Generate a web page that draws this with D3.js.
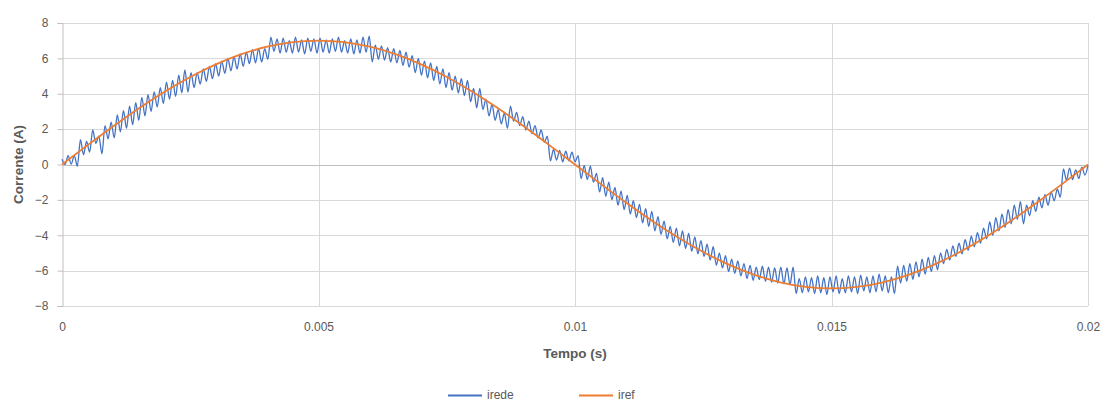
<!DOCTYPE html>
<html>
<head>
<meta charset="utf-8">
<script src="https://cdn.jsdelivr.net/npm/d3@7"></script>
<style>
  html, body { margin: 0; padding: 0; background: #fff; }
  svg { display: block; }
  .tick text { font-family: "Liberation Sans", Arial, sans-serif; font-size: 12px; fill: #595959; }
  .title { font-family: "Liberation Sans", Arial, sans-serif; font-size: 13.5px; font-weight: bold; fill: #595959; }
  .legend text { font-family: "Liberation Sans", Arial, sans-serif; font-size: 12px; fill: #595959; }
</style>
</head>
<body>
<svg id="chart" width="1105" height="403"></svg>
<script>
// Time axis ticks (s) and current axis ticks (A)
const xTicks = [0, 0.005, 0.01, 0.015, 0.02];
const xTickLabels = ["0", "0.005", "0.01", "0.015", "0.02"];
const yTicks = [-8, -6, -4, -2, 0, 2, 4, 6, 8];

// Grid current i_rede (A), uniformly sampled from 0 to 0.02 s
const irede = [
  0.3, 0.0, 0.5, 0.02, 0.5, -0.1, 1.4, 0.55, 1.3, 0.7,
  1.95, 1.2, 1.6, 0.6, 2.2, 1.45, 2.4, 1.5, 2.8, 1.85,
  3.05, 2.05, 3.3, 2.25, 3.5, 2.5, 3.8, 2.75, 3.95, 3.0,
  4.1, 3.25, 4.35, 3.45, 4.65, 3.7, 4.75, 3.85, 5.05, 4.05,
  5.35, 4.1, 5.2, 4.35, 5.2, 4.55, 5.4, 4.7, 5.55, 4.85,
  5.7, 5.0, 5.85, 5.15, 6.0, 5.3, 6.1, 5.4, 6.25, 5.55,
  6.35, 5.7, 6.5, 5.75, 6.55, 5.8, 6.55, 5.95, 7.2, 6.4,
  7.1, 6.3, 7.15, 6.35, 7.0, 6.3, 7.2, 6.35, 7.05, 6.25,
  7.15, 6.4, 7.1, 6.3, 7.15, 6.35, 7.05, 6.3, 7.1, 6.4,
  7.2, 6.35, 7.0, 6.3, 7.1, 6.25, 7.05, 6.3, 7.2, 6.35,
  7.25, 5.8, 6.75, 5.95, 6.7, 5.9, 6.6, 5.8, 6.55, 5.75,
  6.45, 5.6, 6.35, 5.5, 6.15, 5.2, 6.0, 5.05, 5.85, 4.9,
  5.75, 4.75, 5.55, 4.55, 5.4, 4.35, 5.2, 4.2, 5.0, 4.05,
  4.85, 3.9, 4.75, 3.55, 4.3, 3.2, 4.3, 3.1, 3.7, 2.75,
  3.4, 2.5, 3.1, 2.3, 2.9, 2.05, 3.3, 2.45, 2.95, 2.2,
  2.7, 1.95, 2.45, 1.75, 2.2, 1.5, 1.95, 1.25, 1.6, 0.2,
  0.85, 0.25, 0.8, 0.15, 0.75, 0.2, 0.7, 0.15, 0.5, -0.8,
  -0.05, -0.85, -0.1, -1.0, -0.5, -1.55, -0.75, -1.8, -1.0, -2.0,
  -1.3, -2.3, -1.5, -2.55, -1.75, -2.8, -2.05, -3.0, -2.25, -3.3,
  -2.5, -3.5, -2.65, -3.75, -2.95, -3.95, -3.2, -4.2, -3.5, -4.4,
  -3.6, -4.6, -3.75, -4.75, -3.9, -4.9, -4.1, -5.05, -4.3, -5.2,
  -4.5, -5.4, -4.65, -5.7, -5.0, -5.85, -5.15, -6.05, -5.35, -6.15,
  -5.45, -6.3, -5.6, -6.45, -5.7, -6.55, -5.8, -6.5, -5.75, -6.6,
  -5.8, -6.65, -5.85, -6.7, -5.8, -6.75, -5.85, -6.8, -5.8, -7.3,
  -6.45, -7.25, -6.35, -7.2, -6.4, -7.3, -6.3, -7.25, -6.4, -7.35,
  -6.35, -7.2, -6.3, -7.3, -6.45, -7.25, -6.3, -7.2, -6.35, -7.3,
  -6.25, -7.15, -6.35, -7.25, -6.3, -7.2, -6.2, -7.15, -6.3, -7.25,
  -6.35, -7.3, -5.75, -6.7, -5.7, -6.6, -5.6, -6.5, -5.5, -6.35,
  -5.35, -6.2, -5.25, -6.05, -5.15, -5.95, -5.0, -5.6, -4.8, -5.4,
  -4.6, -5.2, -4.45, -5.05, -4.25, -4.85, -4.05, -4.65, -3.85, -4.45,
  -3.6, -4.2, -3.25, -4.0, -3.0, -3.75, -2.8, -3.55, -2.55, -3.35,
  -2.3, -3.1, -2.1, -3.35, -2.3, -2.9, -2.05, -2.65, -1.85, -2.45,
  -1.7, -2.3, -1.55, -2.05, -1.4, -1.85, -0.25, -0.9, -0.2, -0.85,
  -0.3, -0.8, -0.15, -0.6, -0.05
];

// Reference current i_ref (A), sampled every 0.5 ms
const iref = [
  0, 1.095, 2.163, 3.178, 4.115, 4.950, 5.663, 6.237, 6.658, 6.914,
  7.0, 6.914, 6.658, 6.237, 5.663, 4.950, 4.115, 3.178, 2.163, 1.095,
  0, -1.095, -2.163, -3.178, -4.115, -4.950, -5.663, -6.237, -6.658, -6.914,
  -7.0, -6.914, -6.658, -6.237, -5.663, -4.950, -4.115, -3.178, -2.163, -1.095,
  0
];

const seriesNames = ["irede", "iref"];
const seriesColors = ["#4472C4", "#ED7D31"];

const iredeStep = 0.02 / (irede.length - 1);
const irefStep = 0.0005;

const svg = d3.select("#chart");
const plotLeft = 62, plotRight = 1088, plotTop = 23, plotBottom = 306;

const x = d3.scaleLinear().domain([0, 0.02]).range([plotLeft, plotRight]);
const y = d3.scaleLinear().domain([-8, 8]).range([plotBottom, plotTop]);

// Horizontal gridlines
svg.append("g")
  .selectAll("line")
  .data(yTicks.filter(v => v !== 0))
  .join("line")
  .attr("x1", plotLeft).attr("x2", plotRight)
  .attr("y1", d => Math.round(y(d)) + 0.5).attr("y2", d => Math.round(y(d)) + 0.5)
  .attr("stroke", "#D9D9D9").attr("stroke-width", 1);

// Vertical gridlines
svg.append("g")
  .selectAll("line")
  .data(xTicks.filter(v => v !== 0))
  .join("line")
  .attr("x1", d => Math.round(x(d)) + 0.5).attr("x2", d => Math.round(x(d)) + 0.5)
  .attr("y1", plotTop).attr("y2", plotBottom)
  .attr("stroke", "#D9D9D9").attr("stroke-width", 1);

// Vertical axis with labels and outer ticks
const yAxis = svg.append("g")
  .attr("transform", `translate(${plotLeft + 0.5},0)`)
  .call(d3.axisLeft(y).tickValues(yTicks).tickSize(5).tickPadding(9).tickFormat(d3.format("d")));
yAxis.select(".domain").attr("stroke", "#BFBFBF");
yAxis.selectAll(".tick line").attr("stroke", "#BFBFBF");

// Horizontal axis line through zero
svg.append("line")
  .attr("x1", plotLeft).attr("x2", plotRight)
  .attr("y1", Math.round(y(0)) + 0.5).attr("y2", Math.round(y(0)) + 0.5)
  .attr("stroke", "#BFBFBF").attr("stroke-width", 1);

// Time labels along the bottom of the plot
const xAxis = svg.append("g")
  .attr("transform", `translate(0,${plotBottom})`)
  .call(d3.axisBottom(x).tickValues(xTicks).tickSize(0).tickPadding(16)
    .tickFormat((d, i) => xTickLabels[i]));
xAxis.select(".domain").remove();

// Series lines
const iredeLine = d3.line()
  .x((d, i) => x(i * iredeStep))
  .y(d => y(d))
  .curve(d3.curveMonotoneX);

const irefLine = d3.line()
  .x((d, i) => x(i * irefStep))
  .y(d => y(d))
  .curve(d3.curveNatural);

svg.append("path")
  .datum(irede)
  .attr("d", iredeLine)
  .attr("fill", "none")
  .attr("stroke", seriesColors[0])
  .attr("stroke-width", 1.3)
  .attr("stroke-linejoin", "round");

svg.append("path")
  .datum(iref)
  .attr("d", irefLine)
  .attr("fill", "none")
  .attr("stroke", seriesColors[1])
  .attr("stroke-width", 1.8);

// Axis titles
svg.append("text")
  .attr("class", "title")
  .attr("x", (plotLeft + plotRight) / 2)
  .attr("y", 358)
  .attr("text-anchor", "middle")
  .text("Tempo (s)");

svg.append("text")
  .attr("class", "title")
  .attr("transform", `translate(23,${y(0)}) rotate(-90)`)
  .attr("text-anchor", "middle")
  .text("Corrente (A)");

// Legend
const legendItems = [
  { name: seriesNames[0], color: seriesColors[0], x0: 448 },
  { name: seriesNames[1], color: seriesColors[1], x0: 579 }
];
const legend = svg.append("g").attr("class", "legend");
legendItems.forEach(item => {
  legend.append("line")
    .attr("x1", item.x0).attr("x2", item.x0 + 34)
    .attr("y1", 395.5).attr("y2", 395.5)
    .attr("stroke", item.color).attr("stroke-width", 1.8);
  legend.append("text")
    .attr("x", item.x0 + 39)
    .attr("y", 399)
    .text(item.name);
});
</script>
</body>
</html>
